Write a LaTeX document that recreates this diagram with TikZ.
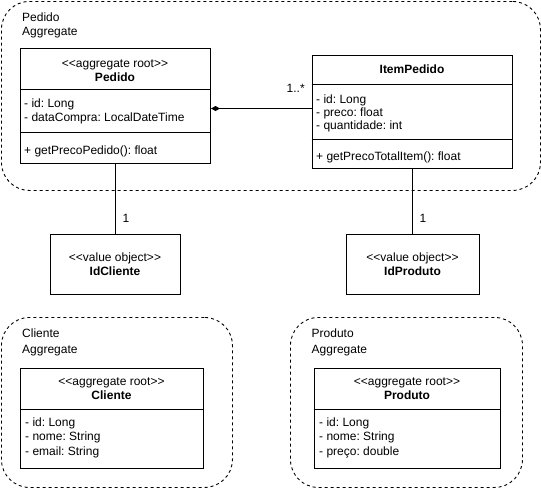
\documentclass[tikz,border=0pt]{standalone}
\usepackage{fontspec}
\setmainfont{Liberation Sans}[Ligatures=TeXOff]
\usetikzlibrary{arrows.meta}
\frenchspacing
\begin{document}
\begin{tikzpicture}[x=1pt,y=-1pt,
  aggbox/.style={draw, dash pattern=on 3pt off 3pt, rounded corners=28pt, line width=0.9pt, anchor=north west, inner sep=0pt},
  umlbox/.style={draw, line width=1pt, anchor=north west, inner sep=0pt, fill=white},
  divider/.style={line width=1pt},
  conn/.style={line width=1pt},
  txt/.style={inner sep=0pt, anchor=base west, font=\fontsize{12}{14}\selectfont},
  ctxt/.style={inner sep=0pt, anchor=base, font=\fontsize{12}{14}\selectfont},
  btxt/.style={inner sep=0pt, anchor=base, font=\fontsize{12}{14}\selectfont\bfseries}
]
\useasboundingbox (0,0) rectangle (541,488);

% aggregates
\node[aggbox, minimum width=539pt, minimum height=189pt] (pedidoagg) at (1,1) {};
\node[txt] (pedidoaggl1) at (22,21.7) {Pedido};
\node[txt] (pedidoaggl2) at (22,35.5) {Aggregate};

\node[aggbox, minimum width=231pt, minimum height=170pt] (clienteagg) at (1,317) {};
\node[txt] (clienteaggl1) at (22,337.7) {Cliente};
\node[txt] (clienteaggl2) at (22,353.3) {Aggregate};

\node[aggbox, minimum width=232pt, minimum height=170pt] (produtoagg) at (290,317) {};
\node[txt] (produtoaggl1) at (311.5,337.7) {Produto};
\node[txt] (produtoaggl2) at (311.5,353.3) {Aggregate};

% Pedido class
\node[umlbox, minimum width=190pt, minimum height=115pt] (pedido) at (20,48) {};
\draw[divider] (20,89.5) -- (210,89.5);
\draw[divider] (20,132.7) -- (210,132.7);
\node[ctxt] (pedidost) at (115,67) {<<aggregate root>>};
\node[btxt] (pedidon) at (115,81) {Pedido};
\node[txt] (pedidoa1) at (24,107.5) {- id: Long};
\node[txt] (pedidoa2) at (24,121.5) {- dataCompra: LocalDateTime};
\node[txt] (pedidom1) at (24,154) {+ getPrecoPedido(): float};

% ItemPedido class
\node[umlbox, minimum width=200.6pt, minimum height=113.3pt] (item) at (311.7,55) {};
\draw[divider] (311.7,84) -- (512.3,84);
\draw[divider] (311.7,139) -- (512.3,139);
\node[btxt] (itemn) at (412,73.5) {ItemPedido};
\node[txt] (itema1) at (316,103.3) {- id: Long};
\node[txt] (itema2) at (316,116.5) {- preco: float};
\node[txt] (itema3) at (316,129.8) {- quantidade: int};
\node[txt] (itemm1) at (316,160.7) {+ getPrecoTotalItem(): float};

% value objects
\node[umlbox, minimum width=130pt, minimum height=60pt] (idcliente) at (50,234) {};
\node[ctxt] (idclientest) at (115,261.7) {<<value object>>};
\node[btxt] (idclienten) at (115,275.5) {IdCliente};

\node[umlbox, minimum width=133pt, minimum height=60pt] (idproduto) at (346,234) {};
\node[ctxt] (idprodutost) at (412.5,261.7) {<<value object>>};
\node[btxt] (idproduton) at (412.5,275.5) {IdProduto};

% Cliente class
\node[umlbox, minimum width=183pt, minimum height=100pt] (cliente) at (20,368) {};
\draw[divider] (20,409) -- (203,409);
\node[ctxt] (clientest) at (111.5,385.5) {<<aggregate root>>};
\node[btxt] (clienten) at (111.5,399.5) {Cliente};
\node[txt] (clientea1) at (25,426.7) {- id: Long};
\node[txt] (clientea2) at (25,440.7) {- nome: String};
\node[txt] (clientea3) at (25,455) {- email: String};

% Produto class
\node[umlbox, minimum width=186pt, minimum height=100pt] (produto) at (314,368) {};
\draw[divider] (314,409) -- (500,409);
\node[ctxt] (produtost) at (407,385.5) {<<aggregate root>>};
\node[btxt] (produton) at (407,399.5) {Produto};
\node[txt] (produtoa1) at (319,426.7) {- id: Long};
\node[txt] (produtoa2) at (319,440.7) {- nome: String};
\node[txt] (produtoa3) at (319,455) {- preço: double};

% connectors
\coordinate (assoc) at (0,108.5);
\draw[conn, -{Diamond[length=9pt,width=5pt]}] (item.west |- assoc) -- (pedido.east |- assoc);
\node[txt] (mult1) at (286.5,92.7) {1..*};
\draw[conn] (pedido.south) -- (idcliente.north);
\node[txt] (mult2) at (122.5,222.7) {1};
\draw[conn] (item.south) -- (item.south |- idproduto.north);
\node[txt] (mult3) at (419.5,222.7) {1};
\end{tikzpicture}
\end{document}
